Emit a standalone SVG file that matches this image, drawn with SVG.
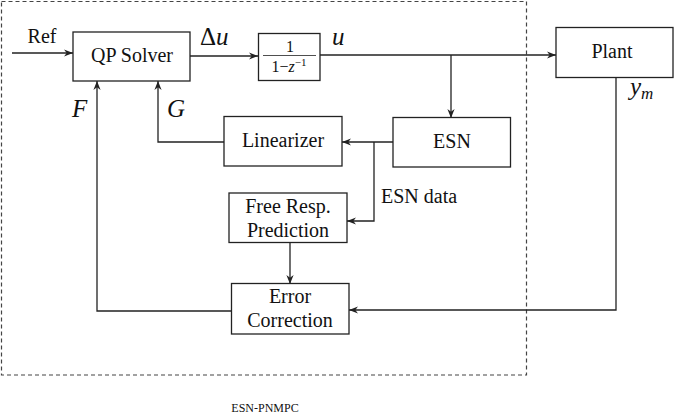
<svg xmlns="http://www.w3.org/2000/svg" width="675" height="416" viewBox="0 0 675 416">
<style>
.box{fill:#fff;stroke:#222;stroke-width:1.3}
.ln{fill:none;stroke:#222;stroke-width:1.3}
.t{font-family:"Liberation Serif","Times New Roman",serif;font-size:20px;fill:#111;text-anchor:middle}
.m{font-family:"Liberation Serif","Times New Roman",serif;font-style:italic;font-size:25px;fill:#111}
.s{font-family:"Liberation Serif","Times New Roman",serif;font-size:12px;fill:#111;text-anchor:middle}
.frac{font-family:"Liberation Serif","Times New Roman",serif;font-size:16px;fill:#111;text-anchor:middle}
</style>
<defs>
<marker id="ah" viewBox="0 0 10 10" refX="10" refY="5" markerWidth="9" markerHeight="9" markerUnits="userSpaceOnUse" orient="auto">
<path d="M0,1 L10,5 L0,9 L3,5 Z" fill="#222"/>
</marker>
</defs>
<rect x="1.5" y="1.5" width="525" height="373.5" fill="none" stroke="#444" stroke-width="1.2" stroke-dasharray="4,3"/>
<g id="connectors">
<path class="ln" d="M12,53 H73" marker-end="url(#ah)"/>
<path class="ln" d="M190,56 H258" marker-end="url(#ah)"/>
<path class="ln" d="M320,55 H556" marker-end="url(#ah)"/>
<path class="ln" d="M451,55 V118" marker-end="url(#ah)"/>
<path class="ln" d="M393,142 H342" marker-end="url(#ah)"/>
<path class="ln" d="M374,142 V221 H347" marker-end="url(#ah)"/>
<path class="ln" d="M224,142 H158 V81" marker-end="url(#ah)"/>
<path class="ln" d="M290,243 V284" marker-end="url(#ah)"/>
<path class="ln" d="M232,311 H97 V81" marker-end="url(#ah)"/>
<path class="ln" d="M616,78 V310 H349" marker-end="url(#ah)"/>
</g>
<text class="t" x="42" y="43">Ref</text>
<text class="m" x="200" y="45"><tspan font-style="normal">Δ</tspan>u</text>
<text class="m" x="332" y="45">u</text>
<text class="m" x="72" y="117">F</text>
<text class="m" x="167" y="117">G</text>
<text class="m" x="630" y="95">y<tspan font-size="17" dy="4">m</tspan></text>
<text class="t" x="381" y="203" style="text-anchor:start">ESN data</text>
<g id="qp"><rect class="box" x="73" y="32" width="117" height="49"/><text class="t" x="132" y="62">QP Solver</text></g>
<g id="integrator"><rect class="box" x="258.5" y="33.5" width="61.5" height="47" stroke="#666"/>
<text class="frac" x="290" y="52">1</text>
<line x1="263" y1="55.5" x2="316" y2="55.5" stroke="#222" stroke-width="0.8"/>
<text class="frac" x="289" y="72">1−<tspan font-style="italic">z</tspan><tspan font-size="11" dy="-6">−1</tspan></text>
</g>
<g id="plant"><rect class="box" x="556" y="27.5" width="117" height="50"/><text class="t" x="612" y="58">Plant</text></g>
<g id="esn"><rect class="box" x="393" y="117.5" width="117.5" height="49.5"/><text class="t" x="452" y="148">ESN</text></g>
<g id="linearizer"><rect class="box" x="224" y="116.5" width="118" height="49.5"/><text class="t" x="283" y="147">Linearizer</text></g>
<g id="freeresp"><rect class="box" x="229" y="193" width="118" height="49.5"/><text class="t" x="288" y="213">Free Resp.</text><text class="t" x="288" y="237">Prediction</text></g>
<g id="errcorr"><rect class="box" x="231.5" y="283.5" width="117.5" height="50.5"/><text class="t" x="290" y="303">Error</text><text class="t" x="290" y="327">Correction</text></g>
<text class="s" x="265" y="412">ESN-PNMPC</text>
</svg>
